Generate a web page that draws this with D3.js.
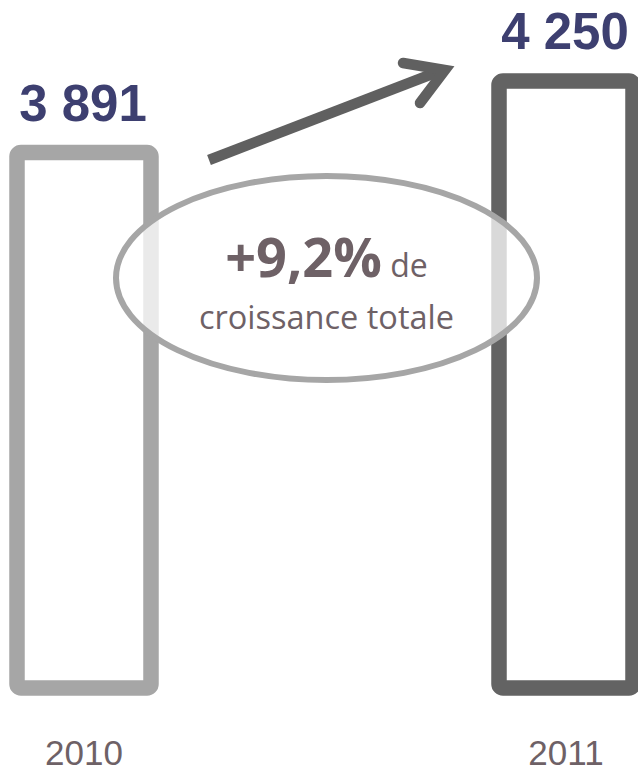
<!DOCTYPE html>
<html>
<head>
<meta charset="utf-8">
<script src="https://cdn.jsdelivr.net/npm/d3@7"></script>
<style>
  html, body { margin: 0; padding: 0; background: #ffffff; }
  svg { display: block; }
</style>
</head>
<body>
<svg id="chart" width="638" height="773"></svg>
<script>
// ---- data ----
const years = ["2010", "2011"];
const values = [3891, 4250];
const valueLabels = ["3 891", "4 250"];
const growthLabel = "+9,2%";
const growthText1 = " de";
const growthText2 = "croissance totale";
const barColors = ["#a6a6a6", "#636363"];

const svg = d3.select("#chart");

const x = d3.scaleBand().domain(years).range([17, 633]).paddingInner(0.722).paddingOuter(0);
const y = d3.scaleLinear().domain([1203, 4250]).range([688, 81]);

const data = years.map((yr, i) => ({ year: yr, value: values[i], label: valueLabels[i], color: barColors[i] }));

// bars (outlined)
svg.selectAll("rect.bar").data(data).join("rect")
  .attr("class", "bar")
  .attr("x", d => x(d.year))
  .attr("y", d => y(d.value))
  .attr("width", x.bandwidth())
  .attr("height", d => y.range()[0] - y(d.value))
  .attr("rx", 4)
  .attr("fill", "none")
  .attr("stroke", d => d.color)
  .attr("stroke-width", 15.5)
  .attr("stroke-linejoin", "round");

// value labels
svg.selectAll("text.val").data(data).join("text")
  .attr("class", "val")
  .attr("x", d => x(d.year) + x.bandwidth() / 2 - 1)
  .attr("y", d => y(d.value) - 32)
  .attr("text-anchor", "middle")
  .attr("font-family", "Liberation Sans, Arial, sans-serif")
  .attr("font-weight", "bold")
  .attr("font-size", 51)
  .attr("fill", "#3d3f70")
  .text(d => d.label);

// year labels
svg.selectAll("text.year").data(data).join("text")
  .attr("class", "year")
  .attr("x", d => x(d.year) + x.bandwidth() / 2)
  .attr("y", 765)
  .attr("text-anchor", "middle")
  .attr("font-family", "Liberation Sans, Arial, sans-serif")
  .attr("font-size", 35)
  .attr("fill", "#6e6166")
  .text(d => d.year);

// arrow
const arrowColor = "#606060";
svg.append("line")
  .attr("x1", 209).attr("y1", 160)
  .attr("x2", 440).attr("y2", 71)
  .attr("stroke", arrowColor)
  .attr("stroke-width", 10.5)
  .attr("stroke-linecap", "butt");
svg.append("path")
  .attr("d", "M403,63 L445,70 L420,103")
  .attr("fill", "none")
  .attr("stroke", arrowColor)
  .attr("stroke-width", 10.5)
  .attr("stroke-linecap", "round")
  .attr("stroke-linejoin", "miter")
  .attr("stroke-miterlimit", 10);

// ellipse
const cx = 326.5, cy = 278;
svg.append("ellipse")
  .attr("cx", cx).attr("cy", cy)
  .attr("rx", 210.5).attr("ry", 102)
  .attr("fill", "#ffffff")
  .attr("fill-opacity", 0.76)
  .attr("stroke", "#a6a6a6")
  .attr("stroke-width", 6);

const t1 = svg.append("text")
  .attr("x", cx).attr("y", 277)
  .attr("text-anchor", "middle")
  .attr("font-family", "Open Sans, sans-serif")
  .attr("fill", "#6e6166");
t1.append("tspan").attr("font-weight", "bold").attr("font-size", 54).text(growthLabel);
t1.append("tspan").attr("font-size", 32).text(growthText1);

svg.append("text")
  .attr("x", cx).attr("y", 329)
  .attr("text-anchor", "middle")
  .attr("font-family", "Open Sans, sans-serif")
  .attr("font-size", 32.5)
  .attr("fill", "#6e6166")
  .text(growthText2);
</script>
</body>
</html>
